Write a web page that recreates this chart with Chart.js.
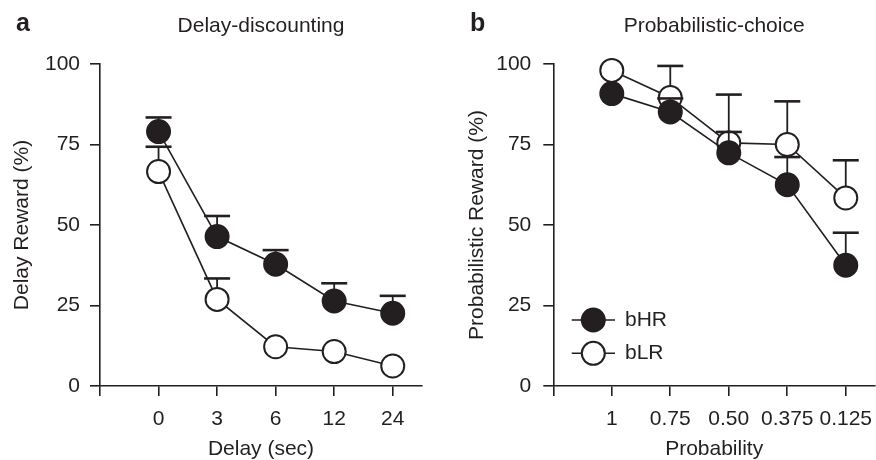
<!DOCTYPE html>
<html><head><meta charset="utf-8">
<script src="https://cdn.jsdelivr.net/npm/chart.js@4.4.1/dist/chart.umd.min.js"></script>
<style>
html,body{margin:0;padding:0;background:#fff;width:876px;height:460px;overflow:hidden}
.p{position:absolute;top:0;height:460px;width:438px}
#wa{left:0}
#wb{left:438px}
</style></head><body>
<div class="p" id="wa"><canvas id="ca" width="438" height="460"></canvas></div>
<div class="p" id="wb"><canvas id="cb" width="438" height="460"></canvas></div>
<script>
// ---- data ----
const seriesNames = ['bHR', 'bLR'];
const delayLabels = ['0', '3', '6', '12', '24'];
const delayHR = [79.0, 46.4, 37.8, 26.4, 22.6];
const delayHRerr = [4.4, 6.4, 4.4, 5.5, 5.4];
const delayLR = [66.6, 26.9, 12.2, 10.7, 6.2];
const delayLRerr = [7.7, 6.5, null, null, null];
const probLabels = ['1', '0.75', '0.50', '0.375', '0.125'];
const probHR = [90.8, 85.1, 72.4, 62.5, 37.5];
const probHRerr = [null, 4.2, 6.5, 8.6, 10.1];
const probLR = [98.0, 89.6, 75.5, 75.0, 58.4];
const probLRerr = [null, 9.8, 15.0, 13.4, 11.7];
const yTicks = [0, 25, 50, 75, 100];

const INK = '#231f20';
const FAM = '"Liberation Sans", Arial, Helvetica, sans-serif';
Chart.defaults.font.family = FAM;
Chart.defaults.font.size = 21;
Chart.defaults.color = INK;

const errorBars = {
  id: 'errorBars',
  beforeDatasetDraw(chart, args) {
    const ds = chart.data.datasets[args.index];
    const err = ds.errors;
    if (!err) return;
    const xs = chart.scales.x, ys = chart.scales.y, ctx = chart.ctx;
    ctx.save();
    ctx.strokeStyle = INK;
    ds.data.forEach((p, i) => {
      const e = err[i];
      if (e == null) return;
      const px = xs.getPixelForValue(p.x);
      const py = ys.getPixelForValue(p.y);
      const pt = ys.getPixelForValue(p.y + e);
      ctx.lineWidth = 1.8;
      ctx.beginPath(); ctx.moveTo(px, py); ctx.lineTo(px, pt); ctx.stroke();
      ctx.lineWidth = 2.6;
      ctx.beginPath(); ctx.moveTo(px - 13, pt); ctx.lineTo(px + 13, pt); ctx.stroke();
    });
    ctx.restore();
  }
};

const decor = {
  id: 'decor',
  afterDraw(chart, args, opts) {
    const ctx = chart.ctx, ca = chart.chartArea;
    ctx.save();
    ctx.fillStyle = INK;
    ctx.textBaseline = 'alphabetic';
    ctx.textAlign = 'left';
    ctx.font = 'bold 25px ' + FAM;
    ctx.fillText(opts.letter, opts.letterX, 30.5);
    ctx.font = '21px ' + FAM;
    ctx.textAlign = 'center';
    ctx.fillText(opts.title, (ca.left + ca.right) / 2, 31.7);
    if (opts.legend) {
      const lx = ca.left + 18.4;
      chart.data.datasets.forEach((ds, i) => {
        const ly = ca.bottom - 66 + i * 33.3;
        ctx.strokeStyle = INK;
        ctx.lineWidth = 1.6;
        ctx.beginPath(); ctx.moveTo(lx, ly); ctx.lineTo(lx + 43.3, ly); ctx.stroke();
        ctx.beginPath(); ctx.arc(lx + 21.6, ly, 11.5, 0, Math.PI * 2);
        ctx.fillStyle = ds.pointBackgroundColor; ctx.fill();
        ctx.lineWidth = 2; ctx.stroke();
        ctx.fillStyle = INK;
        ctx.textAlign = 'left';
        ctx.textBaseline = 'middle';
        ctx.font = '21px ' + FAM;
        ctx.fillText(ds.label, lx + 53.3, ly);
      });
    }
    ctx.restore();
  }
};

function makeDataset(label, values, errs, filled) {
  return {
    label: label,
    data: values.map((v, i) => ({x: i, y: v})),
    errors: errs,
    borderColor: INK,
    borderWidth: 1.6,
    pointRadius: 11.5,
    pointBorderWidth: 2,
    pointBorderColor: INK,
    pointBackgroundColor: filled ? INK : '#ffffff',
    fill: false,
    tension: 0,
    clip: false
  };
}

function makeChart(canvasId, cats, hr, hrErr, lr, lrErr, cfg) {
  return new Chart(document.getElementById(canvasId), {
    type: 'line',
    data: {
      datasets: [
        makeDataset(seriesNames[0], hr, hrErr, true),
        makeDataset(seriesNames[1], lr, lrErr, false)
      ]
    },
    options: {
      responsive: false,
      animation: false,
      events: [],
      layout: {autoPadding: false, padding: {top: 64, right: cfg.padRight, bottom: 0, left: 0}},
      scales: {
        x: {
          type: 'linear',
          min: -1, max: 4.5,
          afterFit: s => { s.height = 74; s.paddingLeft = 0; s.paddingRight = 0; },
          afterBuildTicks: s => { s.ticks = [-1, 0, 1, 2, 3, 4].map(v => ({value: v})); },
          ticks: {
            padding: 11,
            autoSkip: false,
            maxRotation: 0,
            callback: v => (v >= 0 && Number.isInteger(v)) ? cats[v] : ''
          },
          grid: {display: true, drawOnChartArea: false, drawTicks: true, tickLength: 10, tickColor: INK, tickWidth: 1.6, color: INK, lineWidth: 1.6},
          border: {display: true, color: INK, width: 1.6},
          title: {display: true, text: cfg.xTitle, padding: {top: 0, bottom: -2}, font: {size: 21}}
        },
        y: {
          type: 'linear',
          min: 0, max: 100,
          afterFit: s => { s.width = cfg.yWidth; s.paddingTop = 0; s.paddingBottom = 0; },
          afterBuildTicks: s => { s.ticks = yTicks.map(v => ({value: v})); },
          ticks: {padding: cfg.yTickPad},
          grid: {display: true, drawOnChartArea: false, drawTicks: true, tickLength: 10, tickColor: INK, tickWidth: 1.6, color: INK, lineWidth: 1.6},
          border: {display: true, color: INK, width: 1.6},
          title: {display: true, text: cfg.yTitle, padding: {top: cfg.yTitlePad, bottom: 0}, font: {size: 21}}
        }
      },
      plugins: {
        legend: {display: false},
        tooltip: {enabled: false},
        decor: {letter: cfg.letter, letterX: cfg.letterX, title: cfg.title, legend: cfg.legend}
      }
    },
    plugins: [errorBars, decor]
  });
}

makeChart('ca', delayLabels, delayHR, delayHRerr, delayLR, delayLRerr, {
  padRight: 16, yWidth: 100, yTickPad: 10, yTitlePad: 10,
  xTitle: 'Delay (sec)', yTitle: 'Delay Reward (%)',
  letter: 'a', letterX: 16, title: 'Delay-discounting', legend: false
});
makeChart('cb', probLabels, probHR, probHRerr, probLR, probLRerr, {
  padRight: 1, yWidth: 115.3, yTickPad: 12, yTitlePad: 27,
  xTitle: 'Probability', yTitle: 'Probabilistic Reward (%)',
  letter: 'b', letterX: 32, title: 'Probabilistic-choice', legend: true
});
</script>
</body></html>
